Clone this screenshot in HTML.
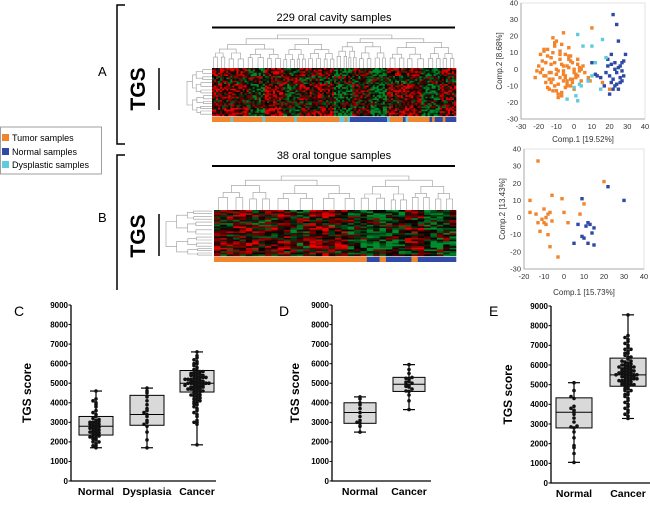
<!DOCTYPE html>
<html><head><meta charset="utf-8"><style>
body{margin:0;background:#fff;}
svg{display:block;font-family:"Liberation Sans",Arial,sans-serif;}
</style></head><body>
<svg id="fig" width="650" height="510" viewBox="0 0 650 510" xmlns="http://www.w3.org/2000/svg">
<g id="static">
  <path d="M125,5 H117 V144 H125" fill="none" stroke="#000" stroke-width="1.5"/>
  <path d="M125,155 H117 V290" fill="none" stroke="#000" stroke-width="1.5"/>
  <text x="98" y="76" font-size="13">A</text>
  <text x="98" y="222" font-size="13">B</text>
  <text transform="translate(145,89) rotate(-90)" text-anchor="middle" font-size="21" font-weight="bold">TGS</text>
  <line x1="159" y1="68" x2="159" y2="110" stroke="#000" stroke-width="1.5"/>
  <text transform="translate(145,236) rotate(-90)" text-anchor="middle" font-size="21" font-weight="bold">TGS</text>
  <line x1="159" y1="214" x2="159" y2="256" stroke="#000" stroke-width="1.5"/>
  <text x="334" y="21" text-anchor="middle" font-size="11">229 oral cavity samples</text>
  <line x1="212" y1="27.5" x2="455" y2="27.5" stroke="#000" stroke-width="2"/>
  <text x="334" y="159" text-anchor="middle" font-size="11">38 oral tongue samples</text>
  <line x1="212" y1="166" x2="455" y2="166" stroke="#000" stroke-width="2"/>
  <g>
    <rect x="0.5" y="127" width="101" height="47" fill="#fff" stroke="#888" stroke-width="0.8"/>
    <rect x="2" y="134" width="7" height="7" fill="#f2842b"/>
    <text x="12" y="141" font-size="9">Tumor samples</text>
    <rect x="2" y="148" width="7" height="7" fill="#2e4aa6"/>
    <text x="12" y="155" font-size="9">Normal samples</text>
    <rect x="2" y="161" width="7" height="7" fill="#5fcbdc"/>
    <text x="12" y="168" font-size="9">Dysplastic samples</text>
  </g>
  <text x="14" y="316" font-size="14">C</text>
  <text x="279" y="316" font-size="14">D</text>
  <text x="489" y="316" font-size="14">E</text>
</g>
<g id="dyn"></g>
</svg>
<script>
// ---------- data ----------
const pcaA_tumorX=[-22,-20,-19,-18,-17,-16,-15,-14,-13,-12,-11,-10,-9,-8,-7,-6,-5,-4,-3,-2,-1,0,1,2,3,-21,-19,-17,-15,-13,-11,-9,-7,-5,-3,-1,1,3,-18,-16,-14,-12,-10,-8,-6,-4,-2,0,2,4,6,-15,-13,-11,-9,-7,-5,-3,-1,-12,-10,-8,-6,-4,-2,-14,-10,-6,-2,2,5,8,-16,-12,-8,-4,0,4,-11,-7,-5,-9,16,10,-3,-6,-13,-17,20,9];
const pcaA_tumorY=[-5,2,-2,5,11,-8,8,-12,3,-6,14,0,-9,6,-14,-3,9,-7,1,-10,4,-2,-5,6,1,-1,9,-4,12,7,-10,-1,15,-5,6,-8,-3,-1,0,4,-6,19,-3,11,-7,2,8,-12,-4,0,-2,-11,-8,16,-15,3,-11,13,-6,10,-13,-5,2,-9,5,-2,17,-1,-6,3,2,-5,-4,-13,9,-10,0,-7,4,-16,-4,-17,-8,25,8,22,-2,12,-12,-7,0,-8];
const pcaA_normX=[22,24,25,21,23,26,27,28,29,20,22,24,26,28,18,19,21,23,25,27,20,22,24,26,17,15,12,10,8,19,21,23,25,27,13];
const pcaA_normY=[33,27,17,9,4,2,-1,5,9,-4,-6,-2,-8,-4,-2,2,-8,-10,-12,-7,-15,-12,-9,-5,-10,-5,-3,4,-7,6,3,0,1,4,-4];
const pcaA_dysX=[2,5,10,16,12,18,8,1,2,4,15,-4,0,10,3];
const pcaA_dysY=[21,14,14,18,4,7,-7,-16,-19,-10,-12,-18,-11,-4,-9];
const pcaB_tumorX=[-17,-17,-13,-14,-13,-12,-10,-10,-9,-8,-7,-6,-6,-8,-7,-3,-1,0,2,10,8,20,-11,-9];
const pcaB_tumorY=[10,3,33,2,-3,-8,5,-3,0,2,3,13,-2,-10,-17,-23,11,3,-3,8,2,21,-1,-4];
const pcaB_normX=[22,30,9,7,11,12,9,5,12,15,14,15,13,10];
const pcaB_normY=[18,10,11,-4,-5,-3,-11,-15,-15,-6,-9,-16,-4,-12];
const pcaTicksA=[-30,-20,-10,0,10,20,30,40];
const pcaTicksBx=[-20,-10,0,10,20,30,40];

const boxCats_C=["Normal","Dysplasia","Cancer"];
const boxStats_C=[[2350,2800,3300,1700,4600],[2850,3400,4380,1700,4750],[4550,5000,5650,1850,6600]];
const boxCats_D=["Normal","Cancer"];
const boxStats_D=[[2950,3500,4000,2500,4300],[4580,4950,5300,3650,5950]];
const boxCats_E=["Normal","Cancer"];
const boxStats_E=[[2800,3600,4330,1050,5100],[4920,5500,6350,3280,8550]];
const yTicks=[0,1000,2000,3000,4000,5000,6000,7000,8000,9000];
const dots_C_normal=[1700,1800,1900,2000,2100,2150,2200,2250,2300,2350,2400,2450,2500,2550,2600,2650,2700,2750,2800,2850,2900,2950,3000,3050,3100,3200,3300,3400,3500,3600,3800,3900,4000,4100,4200,4600,2250,2500,2700,2900,3000,3150,2000,1800];
const dots_C_dys=[1700,2100,2500,2800,2900,3100,3300,3400,3500,3700,3900,4100,4300,4500,4600,4750,3000,3600];
const dots_C_cancer=[1850,2900,3000,3000,3100,3300,3400,3500,3600,3700,3800,3900,3950,4000,4050,4100,4150,4200,4250,4300,4350,4400,4450,4500,4550,4600,4650,4700,4750,4800,4850,4900,4950,5000,5000,5050,5100,5150,5200,5250,5300,5350,5400,5450,5500,5550,5600,5650,5700,5800,5900,6000,6100,6200,6300,6400,6600,4700,4800,4900,5000,5100,5200,5300,5400,4600,4800,5000,5200,5400,4900,5100,5300,5500,4400,4700,5000,5200,5600,6000];
const dots_D_normal=[2500,2800,2950,3000,3100,3300,3500,3700,3900,4000,4200,4300];
const dots_D_cancer=[3650,4100,4400,4580,4600,4700,4800,4900,4950,5000,5100,5200,5250,5300,5500,5700,5950,4850,5050];
const dots_E_normal=[1050,1500,1800,1900,2300,2600,2800,2850,2900,3100,3300,3500,3600,3700,3800,3900,4300,4400,4700,5100];
const dots_E_cancer=[3280,3400,3500,3600,3700,3800,3900,4000,4100,4200,4300,4400,4500,4600,4700,4800,4900,4950,5000,5050,5100,5150,5200,5250,5300,5350,5400,5450,5500,5550,5600,5650,5700,5750,5800,5850,5900,5950,6000,6050,6100,6150,6200,6300,6400,6500,6600,6700,6800,6900,7000,7100,7200,7300,7400,7500,8550,5000,5200,5400,5600,5800,6000,5100,5300,5500,5700,5900,4800,5000,5200,5400,5600,6200,6400,4500,4700,6600,6800,5500,5500,5700,5300,5900];

const heatA_colBias=[0.4,0.3,-0.2,0.5,-0.1,0.2,0.3,-0.3,0.1,-0.5,0.2,0.4,-0.4,0.3];
const heatA_rowBias=[0.2,-0.4,0.3,0.1,-0.2,0.3];
const heatA_labels=[0,0,0,0,0,0,0,2,0,0,0,0,0,0,0,0,0,0,0,2,0,0,0,0,0,0,0,0,0,0,0,2,0,0,0,0,0,0,0,0,0,0,0,0,0,0,0,0,2,2,0,2,1,1,1,1,1,1,1,1,1,1,1,1,1,1,2,0,0,0,0,0,1,2,0,0,0,0,0,0,0,0,1,0,1,1,1,0,1,1,1,1];
const heatB_colBias=[0.2,0.4,0.1,0.3,-0.1,0.5,0.2,-0.2,-0.5,-0.3,0.3,-0.4,-0.2];
const heatB_rowBias=[0.1,-0.3,0.2,-0.1,0.4,-0.2];
const heatB_labels=[0,0,0,0,0,0,0,0,0,0,0,0,0,0,0,0,0,0,0,0,0,0,0,0,1,1,0,1,1,1,1,0,1,1,1,1,1,1];

// ---------- drawing ----------
const NS="http://www.w3.org/2000/svg";
const root=document.getElementById('dyn');
function mk(tag,attrs,parent){const e=document.createElementNS(NS,tag);for(const k in attrs)e.setAttribute(k,attrs[k]);(parent||root).appendChild(e);return e;}
const COL=["#f2842b","#2e4aa6","#5fcbdc"];
function hash(i,j,s){let h=(i*374761393+j*668265263+s*982451653)|0;h=(h^(h>>>13))*1274126177|0;h=h^(h>>>16);return ((h>>>0)%1000)/1000;}

function heatmap(x0,y0,w,h,cols,rows,colBias,rowBias,labels,seed,name){
  const g=mk('g',{});
  
  
  const cw=w/cols,rh=h/rows;
  for(let j=0;j<rows;j++)for(let i=0;i<cols;i++){
    const cb=colBias[Math.floor(i/cols*colBias.length)],rb=rowBias[Math.floor(j/rows*rowBias.length)];
    let v=(hash(i,j,seed)-0.5)*2.0+cb+rb*(cb>0?1:-1);
    let r=0,gg=0;
    if(v>0){r=Math.min(235,Math.round(v*190));}else{gg=Math.min(140,Math.round(-v*130));}
    mk('rect',{x:(x0+i*cw).toFixed(2),y:(y0+j*rh).toFixed(2),width:(cw+0.3).toFixed(2),height:(rh+0.3).toFixed(2),fill:`rgb(${r},${gg},${Math.round(gg*0.3)})`},g);
  }
  const lw=w/labels.length;
  labels.forEach((c,i)=>{
    const r=mk('rect',{x:(x0+i*lw).toFixed(2),y:y0+h+1,width:(lw+0.3).toFixed(2),height:5,fill:COL[c]});
    
    
  });
}
heatmap(212,68,244,48,120,30,heatA_colBias,heatA_rowBias,heatA_labels,7,'heatmap-a');
heatmap(214,210,242,46,38,28,heatB_colBias,heatB_rowBias,heatB_labels,13,'heatmap-b');

function tree(x0,x1,y,yBot,depth,g,horiz){
  if(depth===0||x1-x0<4){return (x0+x1)/2;}
  const f=0.4+0.2*hash(Math.round(x0*3),depth,3);
  const xm=x0+(x1-x0)*f;
  const step=(yBot-y)/(depth+1)*(0.7+0.6*hash(Math.round(x1*3),depth,9));
  const yc=y+Math.max(1.5,step);
  const a=tree(x0,xm,yc,yBot,depth-1,g,horiz),b=tree(xm,x1,yc,yBot,depth-1,g,horiz);
  const ya=(depth-1===0||xm-x0<4)?yBot:yc, yb=(depth-1===0||x1-xm<4)?yBot:yc;
  let d;
  if(!horiz) d=`M${a.toFixed(1)},${ya.toFixed(1)}V${y.toFixed(1)}H${b.toFixed(1)}V${yb.toFixed(1)}`;
  else d=`M${ya.toFixed(1)},${a.toFixed(1)}H${y.toFixed(1)}V${b.toFixed(1)}H${yb.toFixed(1)}`;
  mk('path',{d:d,fill:'none',stroke:'#999','stroke-width':0.6},g);
  return (a+b)/2;
}
function dendroGroup(name){const g=mk('g',{});return g;}
tree(212,456,35,68,6,dendroGroup('dendrogram-top-a'),false);
tree(68,116,187,212,4,dendroGroup('dendrogram-left-a'),true);
tree(214,456,176,210,5,dendroGroup('dendrogram-top-b'),false);
tree(210,256,166,212,4,dendroGroup('dendrogram-left-b'),true);

function pca(px0,px1,py0,py1,xmin,xmax,ymin,ymax,xt,yt,series,xl,yl,name,xlY){
  const g=mk('g',{});
  
  
  const X=v=>px0+(v-xmin)/(xmax-xmin)*(px1-px0),Y=v=>py1-(v-ymin)/(ymax-ymin)*(py1-py0);
  mk('rect',{x:px0,y:py0,width:px1-px0,height:py1-py0,fill:'#fff',stroke:'#ddd','stroke-width':0.8},g);
  mk('path',{d:`M${px0},${py0}V${py1}H${px1}`,fill:'none',stroke:'#999','stroke-width':0.8},g);
  xt.forEach(t=>{const e=mk('text',{x:X(t),y:py1+10,'text-anchor':'middle','font-size':7.5,fill:'#333'},g);e.textContent=t;
    });
  yt.forEach(t=>{const e=mk('text',{x:px0-3,y:Y(t)+2.5,'text-anchor':'end','font-size':7.5,fill:'#333'},g);e.textContent=t;
    });
  series.forEach(s=>{s.x.forEach((v,i)=>{const r=mk('rect',{x:(X(v)-1.7).toFixed(1),y:(Y(s.y[i])-1.7).toFixed(1),width:3.4,height:3.4,fill:s.c},g);
    });});
  const a=mk('text',{x:(px0+px1)/2,y:xlY,'text-anchor':'middle','font-size':8,fill:'#333'},g);a.textContent=xl;
  
  const b=mk('text',{transform:`translate(${px0-19},${(py0+py1)/2}) rotate(-90)`,'text-anchor':'middle','font-size':8,fill:'#333'},g);b.textContent=yl;
  
}
pca(521,645,3,119,-30,40,-30,40,pcaTicksA,pcaTicksA,
 [{x:pcaA_tumorX,y:pcaA_tumorY,c:COL[0]},{x:pcaA_normX,y:pcaA_normY,c:COL[1]},{x:pcaA_dysX,y:pcaA_dysY,c:COL[2]}],
 'Comp.1 [19.52%]','Comp.2 [8.68%]','pca-plot-a',142);
pca(524,644,149,269,-20,40,-30,40,pcaTicksBx,pcaTicksA,
 [{x:pcaB_tumorX,y:pcaB_tumorY,c:COL[0]},{x:pcaB_normX,y:pcaB_normY,c:COL[1]}],
 'Comp.1 [15.73%]','Comp.2 [13.43%]','pca-plot-b',295);

function boxplot(ax,axEnd,yTop,yBot,cats,catX,stats,dots,halfW,name,ylabX){
  const g=mk('g',{});
  
  
  const Y=v=>yBot-v/9000*(yBot-yTop);
  mk('path',{d:`M${ax},${yTop}V${yBot}H${axEnd}`,fill:'none',stroke:'#000','stroke-width':1.3},g);
  yTicks.forEach(t=>{
    mk('line',{x1:ax-2.5,x2:ax,y1:Y(t),y2:Y(t),stroke:'#000','stroke-width':1},g);
    const e=mk('text',{x:ax-3,y:Y(t)+2.8,'text-anchor':'end','font-size':8,'font-weight':'bold'},g);e.textContent=t;
    
  });
  const yl=mk('text',{transform:`translate(${ylabX},${(yTop+yBot)/2}) rotate(-90)`,'text-anchor':'middle','font-size':12,'font-weight':'bold'},g);
  yl.textContent='TGS score';
  
  cats.forEach((c,i)=>{
    const cx=catX[i],[q1,md,q3,lo,hi]=stats[i];
    mk('line',{x1:cx,x2:cx,y1:Y(hi),y2:Y(lo),stroke:'#000','stroke-width':1.2},g);
    mk('line',{x1:cx-6,x2:cx+6,y1:Y(hi),y2:Y(hi),stroke:'#000','stroke-width':1.2},g);
    mk('line',{x1:cx-6,x2:cx+6,y1:Y(lo),y2:Y(lo),stroke:'#000','stroke-width':1.2},g);
    const b=mk('rect',{x:cx-halfW,y:Y(q3),width:2*halfW,height:Y(q1)-Y(q3),fill:'#d9d9d9',stroke:'#000','stroke-width':1},g);
    
    mk('line',{x1:cx-halfW,x2:cx+halfW,y1:Y(md),y2:Y(md),stroke:'#000','stroke-width':1},g);
    const counts={};
    dots[i].forEach(v=>{
      const k=Math.round(v/150);counts[k]=(counts[k]||0)+1;const n=counts[k];
      const off=(n%2?1:-1)*Math.floor(n/2)*3;
      const d=mk('circle',{cx:(cx+Math.max(-halfW+1,Math.min(halfW-1,off))).toFixed(1),cy:Y(v).toFixed(1),r:1.8,fill:'#111'},g);
      
    });
    const t=mk('text',{x:cx,y:yBot+14,'text-anchor':'middle','font-size':10.5,'font-weight':'bold'},g);t.textContent=c;
    
  });
}
boxplot(71,216,305,481,boxCats_C,[96,147,197],boxStats_C,[dots_C_normal,dots_C_dys,dots_C_cancer],17,'boxplot-c',31);
boxplot(332,431,305,481,boxCats_D,[360,409],boxStats_D,[dots_D_normal,dots_D_cancer],16,'boxplot-d',299);
boxplot(551,650,306,483,boxCats_E,[574,628],boxStats_E,[dots_E_normal,dots_E_cancer],18,'boxplot-e',512);
</script>
</body></html>
